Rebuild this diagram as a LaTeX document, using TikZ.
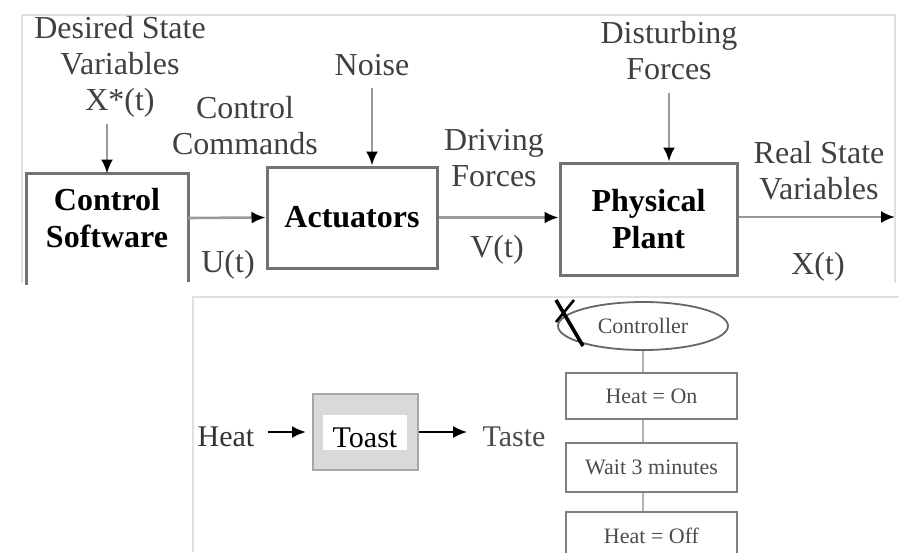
\documentclass[tikz,border=0pt]{standalone}
\usepackage{fontspec}
\setmainfont{Liberation Serif}
\usetikzlibrary{arrows.meta,positioning,shapes.geometric}

\begin{document}
\begin{tikzpicture}[x=0.5pt,y=-0.5pt,
    lbl/.style={align=center,inner sep=0pt,text=black!75,font=\fontsize{16}{18}\selectfont},
    blk/.style={draw=black!55,line width=1.5pt,align=center,inner sep=0pt,font=\fontsize{16}{18.5}\selectfont\bfseries},
    sig/.style={draw=black!40,line width=1.3pt,-{Latex[color=black,length=7pt,width=6pt]}},
    feed/.style={sig,shorten <=6pt},
    frame/.style={draw=black!12,line width=1pt},
    tip/.style={draw=black,line width=1.1pt,-{Latex[length=7pt,width=6pt]}},
    stepbox/.style={draw=black!50,line width=1pt,minimum width=85.5pt,inner sep=0pt,text=black!70,font=\fontsize{11}{13}\selectfont},
    link/.style={draw=black!30,line width=1pt}]
  \useasboundingbox (0,0) rectangle (899,552);
  \clip (0,0) rectangle (899,552);

  % Panel frames
  \draw[frame] (22,283) |- (895,15) -- (895,283);
  \draw[frame] (193,552) |- (899,297);

  % Blocks
  \node[blk,draw=none,minimum width=79.5pt,minimum height=43pt] (cs) at (107,218) {Control\\Software};
  \draw[draw=black!55,line width=1.5pt] (cs.south west) ++(0,22) |- (cs.north east) -- ++(0,108);
  \node[blk,minimum width=85pt,minimum height=50.5pt] (act) at (352,217.5) {Actuators};
  \node[blk,minimum width=88.5pt,minimum height=56pt] (plant) at (648.5,219) {Physical\\Plant};

  % Labels
  \node[lbl] (xdes) at (120,67) {Desired State\\Variables\\X*(t)};
  \node[lbl] (cmd) at (245,126) {Control\\Commands};
  \node[lbl] (noise) at (372,65) {Noise};
  \node[lbl] (drv) at (494,158) {Driving\\Forces};
  \node[lbl] (dist) at (669,51) {Disturbing\\Forces};
  \node[lbl] (real) at (819,171) {Real State\\Variables};
  \node[lbl] (ut) at (228,265) {U(t)};
  \node[lbl] (vt) at (497,250) {V(t)};
  \node[lbl] (xt) at (818,267) {X(t)};
  \coordinate (out) at (895,217);

  % Signals
  \draw[sig,shorten <=3pt] (cs.north |- xdes.south) -- (cs.north);
  \draw[feed] (noise.south) -- (noise.south |- act.north);
  \draw[feed] (dist.south) -- (dist.south |- plant.north);
  \draw[sig] (cs.east) -- (act.west);
  \draw[sig] (act.east) -- (act.east -| plant.west);
  \draw[sig] (plant.east |- out) -- (out);

  % Toast example
  \node[lbl,text=black!80,font=\fontsize{15}{17}\selectfont] (heat) at (226,437) {Heat};
  \node[draw=black!35,fill=black!15,line width=1pt,minimum width=52.5pt,minimum height=38pt] (toast) at (365.5,432) {};
  \node[fill=white,inner sep=0pt,minimum width=42pt,minimum height=17.5pt,text height=15pt,text depth=0pt,font=\fontsize{15}{17}\selectfont] (toastin) at (365,432.5) {Toast};
  \node[lbl,text=black!70,font=\fontsize{15}{17}\selectfont] (taste) at (514,437) {Taste};
  \draw[tip,shorten <=6.5pt,shorten >=3pt] (heat.east |- toast.west) -- (toast.west);
  \draw[tip,shorten >=7.5pt] (toast.east) -- (toast.east -| taste.west);

  % Controller flow
  \node[ellipse,draw=black!60,line width=0.9pt,minimum width=85pt,minimum height=24pt,inner sep=0pt,text=black!70,font=\fontsize{11}{13}\selectfont] (ctrl) at (643,326) {Controller};
  \draw[black,line width=1.8pt] (556,300) -- (583,346);
  \draw[black,line width=1.3pt] (556,322) -- (574,300);
  \foreach \txt/\y/\h [count=\i] in {Heat = On/396/23pt,Wait 3 minutes/467.5/24.5pt,Heat = Off/536/24pt}
    \node[stepbox,minimum height=\h] (s\i) at (651.5,\y) {\txt};
  \draw[link] (ctrl.south) -- (ctrl.south |- s1.north);
  \foreach \i/\j in {1/2,2/3}
    \draw[link] (s\i.south -| ctrl.south) -- (s\j.north -| ctrl.south);
\end{tikzpicture}
\end{document}
